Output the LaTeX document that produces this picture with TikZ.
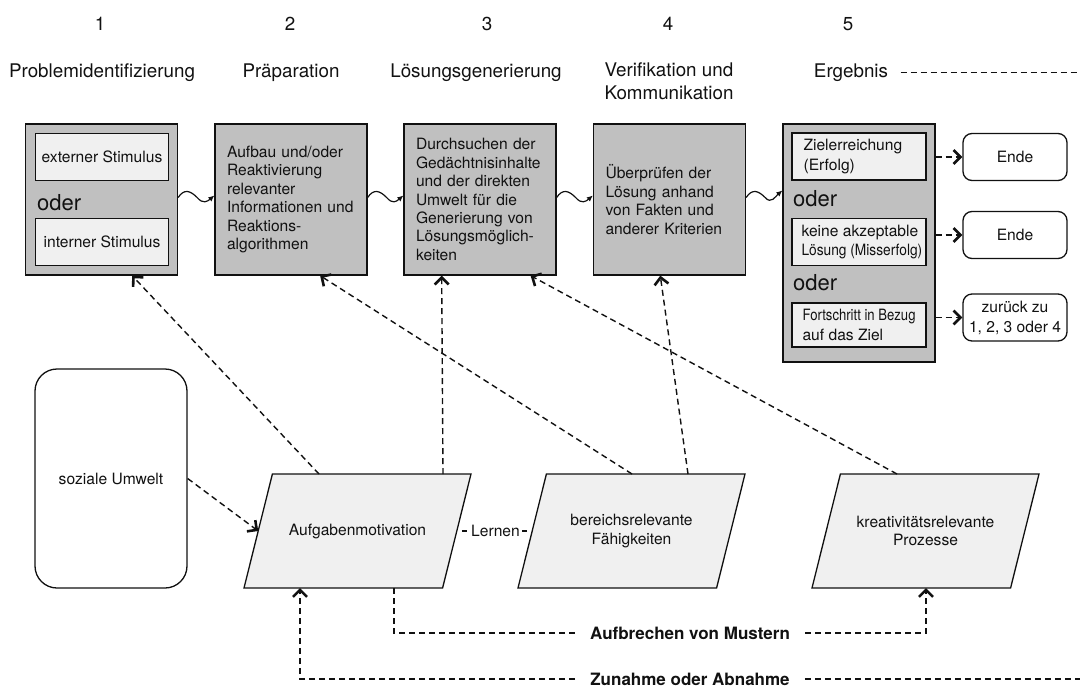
\documentclass[tikz,border=0pt]{standalone}
\usepackage{fontspec}
\setmainfont{TeX Gyre Heros}
\usepackage{graphicx}
\usetikzlibrary{arrows.meta,calc}
\definecolor{stepgray}{HTML}{C0C0C0}
\definecolor{paleface}{HTML}{F0F0F0}
\definecolor{ink}{HTML}{111111}
\newcommand{\bodyfont}{\fontsize{15.6}{18.4}\selectfont}
\newcommand{\headfont}{\fontsize{18.8}{23}\selectfont}
% slanted box around a centre point: top edge from -85.1 to +113.5, height 114
\newcommand{\slantbox}[1]{%
  \filldraw[draw=ink, line width=1.3pt, fill=paleface, line join=miter]
    ([xshift=-85.1pt,yshift=57pt]#1) -- ++(198.6,0) -- ++(-28.4,114) -- ++(-198.6,0) -- cycle;}
\begin{document}
\begin{tikzpicture}[x=1pt,y=-1pt,
  every node/.style={font=\bodyfont, text=ink},
  phase/.style={draw=ink, line width=1.3pt, fill=stepgray, minimum width=152pt, minimum height=151pt, inner sep=0pt},
  phasetext/.style={phase, text width=128pt, inner xsep=12pt, align=left},
  choice/.style={draw=ink, line width=1.3pt, fill=paleface, minimum width=133pt, minimum height=47pt, inner sep=0pt},
  choicetext/.style={anchor=west, align=left, inner sep=0pt, font=\fontsize{15.6}{19.5}\selectfont},
  orword/.style={font=\fontsize{22}{24}\selectfont, anchor=west, inner sep=0pt},
  outcome/.style={draw=ink, line width=1.3pt, rounded corners=9pt, fill=white, minimum width=104pt, minimum height=47pt, align=center, inner sep=0pt, font=\fontsize{15.6}{20}\selectfont},
  factor/.style={minimum width=198pt, minimum height=114pt, align=center, inner sep=0pt},
  dashline/.style={draw=ink, line width=1.4pt, dash pattern=on 6pt off 4pt},
  dasharrow/.style={dashline, -{Straight Barb[length=7pt,width=14pt,line width=2.6pt 0]}},
  wave/.style={draw=ink, line width=1.2pt, -{Latex[length=6pt,width=5.5pt]}},
  pathlabel/.style={font=\bfseries\fontsize{17}{20}\selectfont, inner xsep=15pt, inner ysep=2pt},
  stub/.style={draw=ink, line width=1.4pt, dash pattern=on 0pt off 5pt on 5pt off 30pt},
]
\useasboundingbox (0,0) rectangle (1080,686);

% stage numbers and titles
\node[font=\headfont, anchor=base] (n1) at (100,30) {1};
\node[font=\headfont, anchor=base] (n2) at (290,30) {2};
\node[font=\headfont, anchor=base] (n3) at (487,30) {3};
\node[font=\headfont, anchor=base] (n4) at (668,30) {4};
\node[font=\headfont, anchor=base] (n5) at (848,30) {5};
\node[font=\headfont, anchor=base] (h1) at (102,77) {Problemidentifizierung};
\node[font=\headfont, anchor=base] (h2) at (291,77) {Präparation};
\node[font=\headfont, anchor=base] (h3) at (476,77) {Lösungsgenerierung};
\node[font=\headfont, align=center] (h4) at (669,81.6) {Verifikation und\\Kommunikation};
\node[font=\headfont, anchor=base] (h5) at (851,77) {Ergebnis};
\coordinate (rim) at (1080,0);
\draw[dashline] ([xshift=9pt]h5.east) -- (h5.east -| rim);

% stage 1
\node[phase] (b1) at (101.5,199.5) {};
\node[choice] (s1) at (102,157) {externer Stimulus};
\node[orword] (o1) at (37,203) {oder};
\node[choice] (s2) at (102,242) {interner Stimulus};

% stages 2 to 4
\node[phasetext] (b2) at (291,199.5) {Aufbau und/oder\\Reaktivierung\\relevanter\\Informationen und\\Reaktions-\\algorithmen};
\node[phasetext] (b3) at (480,199.5) {Durchsuchen der\\Gedächtnisinhalte\\und der direkten\\Umwelt für die\\Generierung von\\Lösungsmöglich-\\keiten};
\node[phasetext] (b4) at (669.5,199.5) {Überprüfen der\\Lösung anhand\\von Fakten und\\anderer Kriterien};

% stage 5 with its three outcomes
\node[phase, minimum height=238pt] (b5) at (859,243) {};
\node[choice, minimum width=134pt] (r1) at (859,156.5) {};
\node[choicetext] (t1) at ([xshift=12pt]r1.west) {Zielerreichung\\(Erfolg)};
\node[orword] (o2) at (793,199) {oder};
\node[choice, minimum width=134pt] (r2) at (859,242) {};
\node[choicetext] (t2) at ([xshift=10pt]r2.west) {keine akzeptable\\\scalebox{0.88}[1]{Lösung (Misserfolg)}};
\node[orword] (o3) at (793,283) {oder};
\node[choice, minimum width=134pt, minimum height=44pt] (r3) at (859,325) {};
\node[choicetext] (t3) at ([xshift=11pt]r3.west) {\scalebox{0.84}[1]{Fortschritt in Bezug}\\auf das Ziel};

\node[outcome] (e1) at (1015,157) {Ende};
\node[outcome] (e2) at (1015,235) {Ende};
\node[outcome] (e3) at (1015,317.5) {zurück zu\\1, 2, 3 oder 4};
\draw[dasharrow] (e1.west -| b5.east) -- (e1.west);
\draw[dasharrow] (e2.west -| b5.east) -- (e2.west);
\draw[dasharrow] (e3.west -| b5.east) -- (e3.west);

% wavy transitions between the stages
\coordinate (w2) at (b2.west |- b4.east);
\coordinate (w3) at (b3.west |- b4.east);
\coordinate (w4) at (b4.west |- b4.east);
\coordinate (w5) at (b5.west |- b4.east);
\draw[wave] ([yshift=2pt]b1.east) .. controls +(6,-9) and +(-7,-7) .. ++(19,0) .. controls +(6,7) and +(-7,6) .. ([yshift=4pt]w2);
\draw[wave] ([yshift=2pt]b2.east) .. controls +(6,-9) and +(-7,-7) .. ++(19,0) .. controls +(6,7) and +(-7,6) .. ([yshift=4pt]w3);
\draw[wave] ([yshift=2pt]b3.east) .. controls +(6,-9) and +(-7,-7) .. ++(19,0) .. controls +(6,7) and +(-7,6) .. ([yshift=4pt]w4);
\draw[wave] ([yshift=2pt]b4.east) .. controls +(6,-9) and +(-7,-7) .. ++(19,0) .. controls +(6,7) and +(-7,6) .. ([yshift=9pt]w5);

% components
\node[draw=ink, line width=1.3pt, rounded corners=22pt, fill=white, minimum width=152pt, minimum height=219pt] (su) at (111,478.5) {soziale Umwelt};
\coordinate (amc) at (357.5,531);
\coordinate (brc) at (631.5,531);
\coordinate (krc) at (925.5,531);
\slantbox{amc}
\slantbox{brc}
\slantbox{krc}
\node[factor] (am) at (amc) {Aufgabenmotivation};
\node[factor] (br) at (brc) {bereichsrelevante\\Fähigkeiten};
\node[factor] (kr) at (krc) {kreativitätsrelevante\\Prozesse};

% points on the edges of the slanted boxes
\coordinate (amL) at ([xshift=-99.3pt]am.center);
\coordinate (amR) at ([xshift=99.3pt]am.center);
\coordinate (brL) at ([xshift=-99.3pt]br.center);
\coordinate (amT1) at ([xshift=-38.5pt,yshift=57pt]am.center);
\coordinate (amT2) at ([xshift=85.5pt,yshift=57pt]am.center);
\coordinate (brT1) at ([xshift=0.5pt,yshift=57pt]br.center);
\coordinate (brT2) at ([xshift=56.5pt,yshift=57pt]br.center);
\coordinate (krT1) at ([xshift=-28.5pt,yshift=57pt]kr.center);
\coordinate (amB1) at ([xshift=-57.5pt,yshift=-57pt]am.center);
\coordinate (amB2) at ([xshift=36.5pt,yshift=-57pt]am.center);
\coordinate (krB1) at ([xshift=0.5pt,yshift=-57pt]kr.center);

\draw[dasharrow] (su.east) -- (amL);
\node[inner xsep=0pt, inner ysep=1pt] (ln) at ([xshift=1pt]$(amR)!0.5!(brL)$) {Lernen};
\draw[stub] (amR) -- (ln.west);
\draw[stub] (brL) -- (ln.east);

\draw[dasharrow] (amT1) -- ($(b1.south west)!0.70!(b1.south east)$);
\draw[dasharrow] (amT2) -- ($(b3.south west)!0.25!(b3.south east)$);
\draw[dasharrow] (brT1) -- ($(b2.south west)!0.69!(b2.south east)$);
\draw[dasharrow] (brT2) -- ($(b4.south west)!0.44!(b4.south east)$);
\draw[dasharrow] (krT1) -- ($(b3.south west)!0.83!(b3.south east)$);

% feedback paths along the bottom
\node[pathlabel] (ab) at (690,633) {Aufbrechen von Mustern};
\draw[dashline] (amB2) |- (ab.west);
\draw[dasharrow] (ab.east) -| (krB1);

\node[pathlabel] (za) at (690,679) {Zunahme oder Abnahme};
\draw[dashline] (za.east) -- (za.east -| rim);
\draw[dasharrow] (za.west) -| (amB1);
\end{tikzpicture}
\end{document}
